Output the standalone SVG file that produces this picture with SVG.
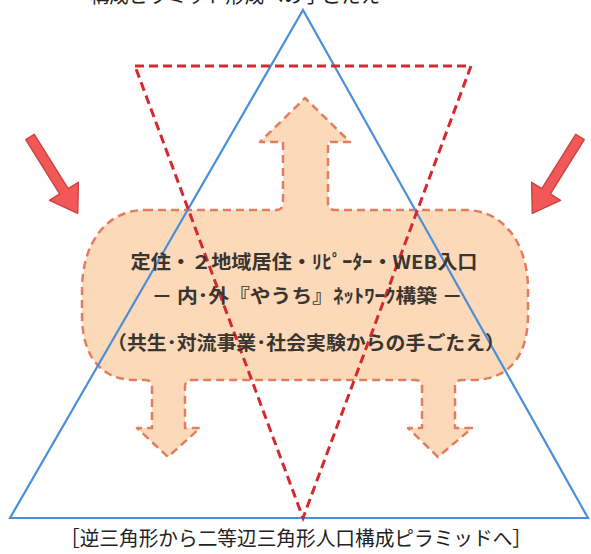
<svg xmlns="http://www.w3.org/2000/svg" width="591" height="554" viewBox="0 0 591 554">
<style>
.t{font-family:"Noto Sans CJK JP","Noto Sans",sans-serif;fill:#3a3530;font-weight:700;text-anchor:middle}
.c{font-family:"Noto Sans CJK JP","Noto Sans",sans-serif;fill:#222;text-anchor:middle}
.blob{fill:#FCD9B8;stroke:#E27E5E;stroke-width:2.5;stroke-dasharray:8 5;stroke-linejoin:round}
.blue{fill:none;stroke:#4A8FDA;stroke-width:2.2;stroke-linejoin:miter}
.red{fill:none;stroke:#D42A2F;stroke-width:3;stroke-dasharray:9 5}
.arr{fill:#F25858;stroke:#CC4444;stroke-width:1.5;stroke-linejoin:round}
</style>
<rect width="591" height="554" fill="#fff"/>
<text class="c" x="235" y="3" font-size="20" textLength="290" lengthAdjust="spacingAndGlyphs">構成ピラミッド形成への手ごたえ</text>
<g id="blob">
<path class="blob" d="M 145 210 L 276 210 Q 283 210 283 203 L 283 142 L 260 142 L 305 98 L 350 142 L 328 142 L 328 203 Q 328 210 335 210 L 465 210 C 505 210 528 245 528 290 L 528 315 C 528 355 510 380 472 380 L 462 380 Q 455 380 455 387 L 455 428 L 472 428 L 438 457 L 408 428 L 422 428 L 422 387 Q 422 380 415 380 L 192 380 Q 185 380 185 387 L 185 428 L 200 428 L 168 457 L 137 428 L 152 428 L 152 387 Q 152 380 145 380 L 135 380 C 100 380 82 355 82 315 L 82 290 C 82 245 105 210 145 210 Z"/>
</g>
<g id="triangles">
<polygon id="blue-triangle" class="blue" points="303,10 588,518 10,518"/>
<polygon id="red-triangle" class="red" points="135,66 471,66 303,518"/>
</g>
<g id="arrows">
<g id="arrow-left" transform="translate(30,137) rotate(-32)">
<path class="arr" d="M -5 0 L 5 0 L 5 64 L 17 64 L 0 90 L -17 64 L -5 64 Z"/>
</g>
<g id="arrow-right" transform="translate(580,137) rotate(32)">
<path class="arr" d="M -5 0 L 5 0 L 5 64 L 17 64 L 0 90 L -17 64 L -5 64 Z"/>
</g>
</g>
<g id="labels">
<text class="t" x="304" y="269" font-size="19" textLength="347" lengthAdjust="spacingAndGlyphs">定住・２地域居住・ﾘﾋﾟｰﾀｰ・WEB入口</text>
<text class="t" x="307" y="303" font-size="19" textLength="311" lengthAdjust="spacingAndGlyphs">－ 内･外『やうち』ﾈｯﾄﾜｰｸ構築 －</text>
<text class="t" x="306" y="350" font-size="19" textLength="398" lengthAdjust="spacingAndGlyphs">（共生･対流事業･社会実験からの手ごたえ）</text>
</g>
<text class="c" x="296" y="546" font-size="20" textLength="472" lengthAdjust="spacingAndGlyphs">［逆三角形から二等辺三角形人口構成ピラミッドへ］</text>
</svg>
